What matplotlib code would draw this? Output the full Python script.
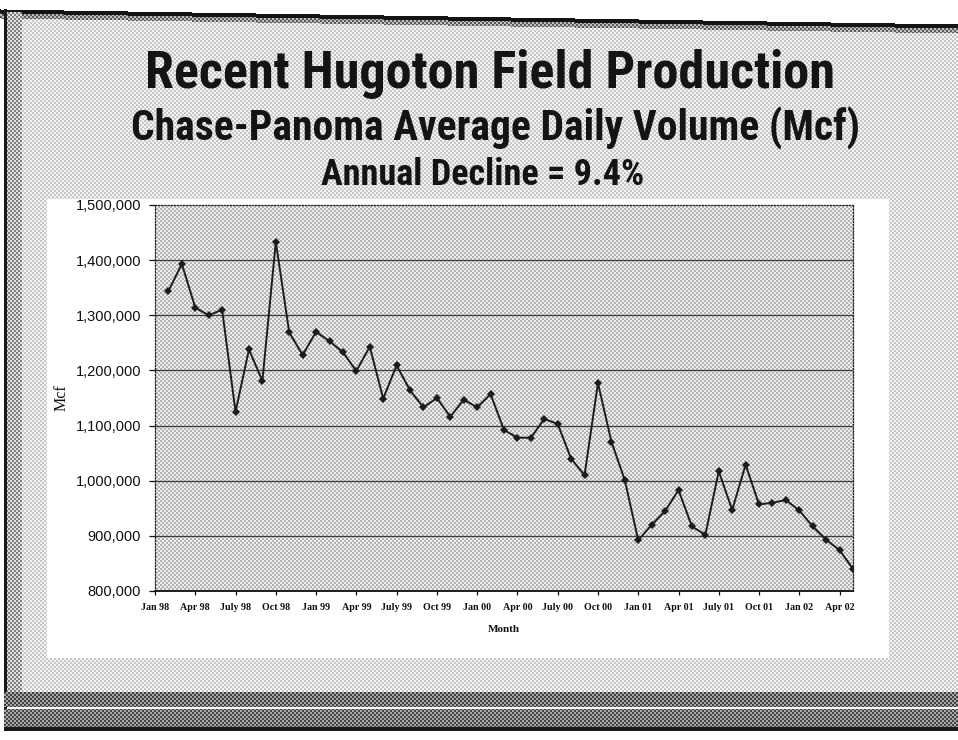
import numpy as np
import matplotlib
matplotlib.use("Agg")
import matplotlib.pyplot as plt
from matplotlib import font_manager
from matplotlib.ticker import FuncFormatter

# ---- data: Chase-Panoma average daily volume, Jan 1998 - Apr 2002 (Mcf) ----
months = ["Jan 98", "Feb 98", "Mar 98", "Apr 98", "May 98", "Jun 98", "Jul 98", "Aug 98",
          "Sep 98", "Oct 98", "Nov 98", "Dec 98", "Jan 99", "Feb 99", "Mar 99", "Apr 99",
          "May 99", "Jun 99", "Jul 99", "Aug 99", "Sep 99", "Oct 99", "Nov 99", "Dec 99",
          "Jan 00", "Feb 00", "Mar 00", "Apr 00", "May 00", "Jun 00", "Jul 00", "Aug 00",
          "Sep 00", "Oct 00", "Nov 00", "Dec 00", "Jan 01", "Feb 01", "Mar 01", "Apr 01",
          "May 01", "Jun 01", "Jul 01", "Aug 01", "Sep 01", "Oct 01", "Nov 01", "Dec 01",
          "Jan 02", "Feb 02", "Mar 02", "Apr 02"]
volume = [1344000, 1393000, 1314000, 1300000, 1310000, 1125000, 1238000, 1181000,
          1433000, 1269000, 1228000, 1270000, 1253000, 1233000, 1199000, 1243000,
          1149000, 1209000, 1164000, 1133000, 1150000, 1116000, 1147000, 1133000,
          1157000, 1092000, 1078000, 1078000, 1112000, 1103000, 1040000, 1010000,
          1177000, 1071000, 1001000, 892000, 920000, 945000, 983000, 917000,
          902000, 1017000, 947000, 1029000, 957000, 960000, 965000, 946000,
          917000, 893000, 874000, 840000]
tick_labels = ["Jan 98", "Apr 98", "July 98", "Oct 98", "Jan 99", "Apr 99", "July 99",
               "Oct 99", "Jan 00", "Apr 00", "July 00", "Oct 00", "Jan 01", "Apr 01",
               "July 01", "Oct 01", "Jan 02", "Apr 02"]
y_ticks = [800000, 900000, 1000000, 1100000, 1200000, 1300000, 1400000, 1500000]

title_lines = ["Recent Hugoton Field Production",
               "Chase-Panoma Average Daily Volume (Mcf)",
               "Annual Decline = 9.4%"]


def pick_font(candidates):
    names = {f.name for f in font_manager.fontManager.ttflist}
    for c in candidates:
        if c in names:
            return c
    return "DejaVu Sans"


HEAD_FONT = pick_font(["Liberation Sans Narrow", "Roboto Condensed", "DejaVu Sans"])
SERIF_FONT = pick_font(["Liberation Serif", "DejaVu Serif"])
SANS_FONT = pick_font(["Liberation Sans", "DejaVu Sans"])

W, H, DPI = 958, 740, 100
fig = plt.figure(figsize=(W / DPI, H / DPI), dpi=DPI)
fig.patch.set_facecolor("white")

# plot-area placement in pixels (top-origin)
px_left, px_right, px_top, px_bottom = 155, 853, 205, 591
ax = fig.add_axes([px_left / W, 1 - px_bottom / H,
                   (px_right - px_left) / W, (px_bottom - px_top) / H])
ax.set_facecolor("none")

# ---- halftone slide background ----
yy, xx = np.mgrid[0:H, 0:W]
dots = ((xx // 2 + yy // 2) % 2) == 0
bg = np.where(dots, 0.78, 0.95)
# white chart box
box = (xx >= 47) & (xx <= 888) & (yy >= 199) & (yy <= 657)
bg[box] = 1.0
# shaded plot area
plot_reg = (xx >= px_left) & (xx <= px_right) & (yy >= px_top) & (yy <= px_bottom)
bg[plot_reg] = np.where(dots, 0.70, 0.93)[plot_reg]
# frame: white margins, left dark edge, top rule, bottom bands
bg[:, :4] = 1.0
bg[731:, :] = 1.0
top_edge = 9 + (xx * 15 / W)
bg[yy < top_edge] = 1.0
bg[(yy >= top_edge) & (yy < top_edge + 4)] = 0.08
dark_top = (yy >= top_edge + 4) & (yy < top_edge + 9)
bg[dark_top] = np.where(dots, 0.35, 0.75)[dark_top]
left_col = (xx >= 7) & (xx < 22) & (yy >= 12) & (yy < 692)
bg[left_col] = np.where(dots, 0.5, 0.88)[left_col]
bg[(xx >= 4) & (xx < 7) & (yy >= 9) & (yy < 731)] = 0.1
band1 = (yy >= 692) & (yy < 707) & (xx >= 4)
bg[band1] = np.where(dots, 0.25, 0.65)[band1]
bg[(yy >= 707) & (yy < 709) & (xx >= 7)] = 0.97
band2 = (yy >= 709) & (yy < 727) & (xx >= 4)
bg[band2] = np.where(dots, 0.28, 0.66)[band2]
bg[(yy >= 727) & (yy < 731) & (xx >= 4)] = 0.1
fig.figimage(bg, xo=0, yo=0, origin="upper", cmap="gray", vmin=0, vmax=1, zorder=-10)

# ---- series ----
x = np.arange(1, len(volume) + 1)
ax.plot(x, volume, color="#1c1c1c", lw=1.4, marker="D", markersize=3.6,
        markerfacecolor="#1c1c1c", markeredgewidth=0, zorder=3)

ax.set_xlim(0, len(volume))
ax.set_ylim(y_ticks[0], y_ticks[-1])
ax.set_xticks(np.arange(0, 3 * len(tick_labels), 3))
ax.set_xticklabels(tick_labels)
ax.set_yticks(y_ticks)
ax.yaxis.set_major_formatter(FuncFormatter(lambda v, p: f"{int(v):,}"))

ax.yaxis.grid(True, color="#3c3c3c", lw=0.9)
gl = ax.yaxis.get_gridlines()
gl[0].set_visible(False)
gl[-1].set_visible(False)

for side in ("left", "right", "top"):
    ax.spines[side].set_linestyle((0, (1, 1.5)))
    ax.spines[side].set_color("#222222")
    ax.spines[side].set_linewidth(0.9)
ax.spines["bottom"].set_color("#111111")
ax.spines["bottom"].set_linewidth(1.3)

ax.tick_params(axis="y", direction="out", length=4, width=0.9, pad=6,
               labelsize=10.5, colors="#111111")
ax.tick_params(axis="x", direction="out", length=3, width=0.9, pad=6,
               labelsize=7.2, colors="#111111")
for lab in ax.get_yticklabels():
    lab.set_fontfamily(SANS_FONT)
for lab in ax.get_xticklabels():
    lab.set_fontfamily(SERIF_FONT)
    lab.set_fontweight("bold")

ax.set_xlabel("Month", fontfamily=SERIF_FONT, fontweight="bold", fontsize=8,
              color="#111111", labelpad=9)
ax.set_ylabel("Mcf", fontfamily=SERIF_FONT, fontsize=11.5, color="#111111", labelpad=4)

# ---- headings, sized to their spans across the slide ----
heads = [
    (title_lines[0], 490, 88, 690),
    (title_lines[1], 496, 140, 728),
    (title_lines[2], 483, 185, 323),
]
renderer = fig.canvas.get_renderer()
for text, cx, base, width_px in heads:
    t = fig.text(cx / W, 1 - base / H, text, ha="center", va="baseline",
                 fontfamily=HEAD_FONT, fontweight="bold", fontsize=30, color="#141414")
    w = t.get_window_extent(renderer).width
    t.set_fontsize(30 * width_px / w)

fig.savefig("out.png", dpi=DPI)
